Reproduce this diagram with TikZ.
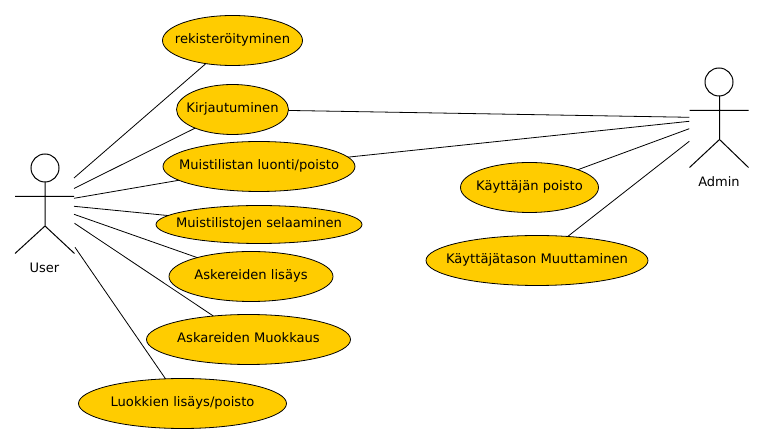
\documentclass[tikz,border=0pt]{standalone}
\usepackage{fontspec}
\setmainfont{DejaVu Sans}
\usetikzlibrary{shapes.geometric}
\newcommand{\uctext}[1]{\makebox[0pt]{\raisebox{-3.3pt}{\strut #1}}}
\tikzset{
  usecase/.style={ellipse,draw=black,fill=ucfill,line width=0.8pt,inner sep=0pt,outer sep=0pt,font=\fontsize{13.1}{15}\selectfont},
  conn/.style={draw=black,line width=0.8pt},
  actorline/.style={draw=black,line width=1pt},
  actorlabel/.style={inner sep=0pt,font=\fontsize{13}{15}\selectfont}
}
\definecolor{ucfill}{RGB}{255,204,0}
\begin{document}
\begin{tikzpicture}[x=1pt,y=-1pt]
\useasboundingbox (0,0) rectangle (764,443);
\fill[white] (0,0) rectangle (764,443);
% use cases
\node[usecase,minimum width=140pt,minimum height=50pt] (rek) at (232.5,40.5) {\uctext{rekisteröityminen}};
\node[usecase,minimum width=112pt,minimum height=50pt] (kir) at (232.5,109.5) {\uctext{Kirjautuminen}};
\node[usecase,minimum width=192pt,minimum height=50pt] (luo) at (259,166.5) {\uctext{Muistilistan luonti/poisto}};
\node[usecase,minimum width=206pt,minimum height=38pt] (sel) at (259,224.5) {\uctext{Muistilistojen selaaminen}};
\node[usecase,minimum width=164pt,minimum height=50pt] (lis) at (251,276.5) {\uctext{Askereiden lisäys}};
\node[usecase,minimum width=204pt,minimum height=50pt] (muo) at (248.5,339.5) {\uctext{Askareiden Muokkaus}};
\node[usecase,minimum width=208pt,minimum height=50pt] (lk) at (182.5,403.5) {\uctext{Luokkien lisäys/poisto}};
\node[usecase,minimum width=138pt,minimum height=50pt] (kp) at (529.5,187.5) {\uctext{Käyttäjän poisto}};
\node[usecase,minimum width=222pt,minimum height=50pt] (kt) at (537,260.5) {\uctext{Käyttäjätason Muuttaminen}};
% free ends
\coordinate (u1) at (74,178);
\coordinate (u2) at (74,188.5);
\coordinate (u3) at (74,198.3);
\coordinate (u4) at (74,206.3);
\coordinate (u5) at (74,214.3);
\coordinate (u6) at (74.5,223.3);
\coordinate (u7) at (75,247.3);
\coordinate (a1) at (689.3,117.3);
\coordinate (a2) at (689.3,121.3);
\coordinate (a3) at (689.3,128.7);
\coordinate (a4) at (689.3,141.3);
% connectors
\draw[conn] (u1) -- (rek);
\draw[conn] (u2) -- (kir);
\draw[conn] (u3) -- (luo);
\draw[conn] (u4) -- (sel);
\draw[conn] (u5) -- (lis);
\draw[conn] (u6) -- (muo);
\draw[conn] (u7) -- (lk);
\draw[conn] (kir) -- (a1);
\draw[conn] (luo) -- (a2);
\draw[conn] (kp) -- (a3);
\draw[conn] (kt) -- (a4);
% User actor
\draw[actorline] (45,168) circle (14);
\draw[actorline] (45,182) -- (45,226) (15,196.5) -- (74,196.5) (15,253.5) -- (45,226) -- (74.5,253.5);
\node[actorlabel] (user) at (44.5,267.5) {User};
% Admin actor
\draw[actorline] (719,82) circle (14);
\draw[actorline] (719.5,96) -- (719.5,139.5) (689.5,110.5) -- (748.5,110.5) (689.5,167.5) -- (719.5,139.5) -- (748.5,167.5);
\node[actorlabel] (admin) at (719,181.5) {Admin};
\end{tikzpicture}
\end{document}
